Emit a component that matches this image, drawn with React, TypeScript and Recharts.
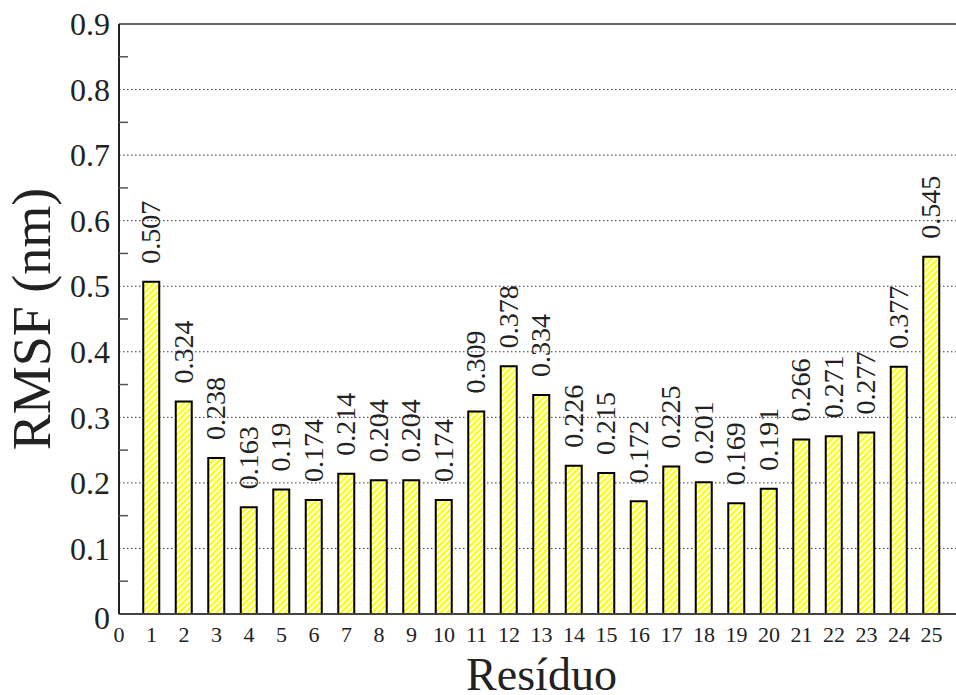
import React from "react"
import {
  BarChart,
  Bar,
  XAxis,
  YAxis,
  CartesianGrid,
  ReferenceLine,
  Label,
} from "recharts"

// RMSF per residue
const residues = [1, 2, 3, 4, 5, 6, 7, 8, 9, 10, 11, 12, 13, 14, 15, 16, 17, 18, 19, 20, 21, 22, 23, 24, 25]
const rmsf = [
  0.507, 0.324, 0.238, 0.163, 0.19, 0.174, 0.214, 0.204, 0.204, 0.174,
  0.309, 0.378, 0.334, 0.226, 0.215, 0.172, 0.225, 0.201, 0.169, 0.191,
  0.266, 0.271, 0.277, 0.377, 0.545,
]

const xTicks = [0, 1, 2, 3, 4, 5, 6, 7, 8, 9, 10, 11, 12, 13, 14, 15, 16, 17, 18, 19, 20, 21, 22, 23, 24, 25]
const yMajor = [0, 0.1, 0.2, 0.3, 0.4, 0.5, 0.6, 0.7, 0.8, 0.9]
const yMinor = [0.05, 0.15, 0.25, 0.35, 0.45, 0.55, 0.65, 0.75, 0.85]
const gridValues = [0.1, 0.2, 0.3, 0.4, 0.5, 0.6, 0.7, 0.8]

const data = residues.map((r, i) => ({ residue: r, rmsf: rmsf[i] }))
const yTicks = [...yMajor, ...yMinor].sort((a, b) => a - b)

const FONT = "'Liberation Serif', 'Times New Roman', Times, serif"
const TICK_GAP = 9
const MINOR_LEN = 9

const isMajor = (v: number) => yMajor.some((m) => Math.abs(m - v) < 1e-9)

const LeftTick = ({ x, y, payload }: any) => {
  const v = payload.value
  const axisX = x + TICK_GAP
  if (!isMajor(v)) {
    return <line x1={axisX} x2={axisX + MINOR_LEN} y1={y} y2={y} stroke="#555" strokeWidth={1.5} />
  }
  return (
    <text
      x={x}
      y={y + (v === 0 ? 4 : 0)}
      dy="0.35em"
      textAnchor="end"
      style={{ fontFamily: FONT }}
      fontSize={32}
      fill="#222"
    >
      {v === 0 ? "0" : v.toFixed(1)}
    </text>
  )
}

const RightTick = ({ x, y, payload }: any) => {
  if (isMajor(payload.value)) return null
  const axisX = x - TICK_GAP
  return <line x1={axisX} x2={axisX - MINOR_LEN} y1={y} y2={y} stroke="#555" strokeWidth={1.5} />
}

const BottomTick = ({ x, y, payload }: any) => (
  <text x={x} y={y} dy="0.72em" textAnchor="middle" style={{ fontFamily: FONT }} fontSize={22} fill="#222">
    {payload.value}
  </text>
)

// rotated value printed above each bar
const ValueLabel = ({ x, y, width, value }: any) => {
  const cx = x + width / 2
  return (
    <text
      transform={`translate(${cx + 9},${y - 18}) rotate(-90)`}
      textAnchor="start"
      style={{ fontFamily: FONT }}
      fontSize={28}
      fill="#222"
    >
      {String(value)}
    </text>
  )
}

export default function App() {
  return (
    <div style={{ position: "fixed", left: 0, top: 0, width: 956, height: 695, overflow: "hidden", background: "#fff" }}>
      <BarChart width={1000} height={695} data={data} margin={{ top: 24, right: 0, bottom: 0, left: 0 }}>
        <defs>
          <pattern id="hatch" patternUnits="userSpaceOnUse" width={4.4} height={4.4} patternTransform="rotate(45)">
            <rect x={0} y={0} width={4.4} height={4.4} fill="#fff" />
            <rect x={0} y={0} width={2.3} height={4.4} fill="#ffff00" />
          </pattern>
        </defs>
        <CartesianGrid
          vertical={false}
          horizontalValues={gridValues}
          stroke="#333"
          strokeDasharray="1.5 2.5"
          strokeWidth={1}
        />
        <XAxis
          dataKey="residue"
          type="number"
          domain={[0, 26]}
          ticks={xTicks}
          interval={0}
          height={81}
          tickLine={false}
          tickSize={0}
          tickMargin={12}
          tick={<BottomTick />}
          axisLine={{ stroke: "#444", strokeWidth: 2 }}
        >
          <Label
            content={({ viewBox }: any) => (
              <text
                x={viewBox.x + viewBox.width / 2}
                y={viewBox.y + 76}
                textAnchor="middle"
                style={{ fontFamily: FONT }}
                fontSize={46}
                fill="#222"
              >
                Resíduo
              </text>
            )}
          />
        </XAxis>
        <YAxis
          domain={[0, 0.9]}
          ticks={yTicks}
          interval={0}
          width={119}
          tickLine={false}
          tickSize={0}
          tickMargin={TICK_GAP}
          tick={<LeftTick />}
          axisLine={{ stroke: "#222", strokeWidth: 2 }}
        >
          <Label
            content={({ viewBox }: any) => (
              <text
                transform={`translate(${viewBox.x + 50},${viewBox.y + viewBox.height / 2}) rotate(-90)`}
                textAnchor="middle"
                style={{ fontFamily: FONT }}
                fontSize={54}
                fill="#222"
              >
                RMSF (nm)
              </text>
            )}
          />
        </YAxis>
        <YAxis
          yAxisId="right"
          orientation="right"
          domain={[0, 0.9]}
          ticks={yTicks}
          interval={0}
          width={36}
          tickLine={false}
          tickSize={0}
          tickMargin={TICK_GAP}
          tick={<RightTick />}
          axisLine={{ stroke: "#444", strokeWidth: 2 }}
        />
        <ReferenceLine y={0.9} stroke="#666" strokeWidth={2} />
        <Bar
          dataKey="rmsf"
          fill="url(#hatch)"
          stroke="#000"
          strokeWidth={2}
          barSize={16}
          isAnimationActive={false}
          label={<ValueLabel />}
        />
      </BarChart>
    </div>
  )
}
